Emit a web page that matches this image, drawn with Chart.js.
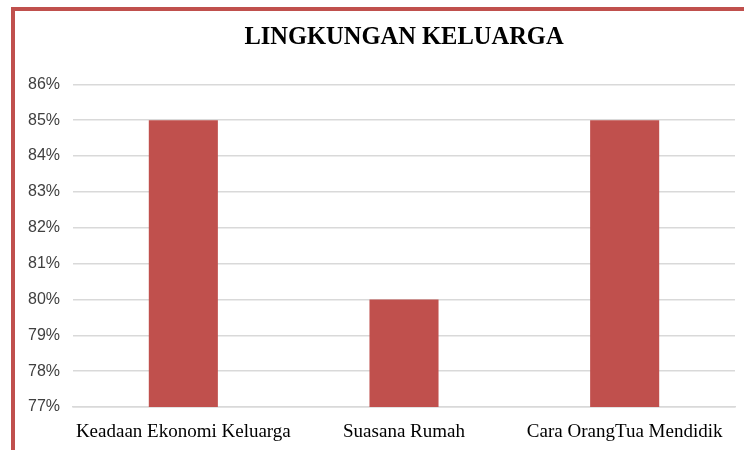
<!DOCTYPE html>
<html>
<head>
<meta charset="utf-8">
<script src="https://cdn.jsdelivr.net/npm/chart.js@4/dist/chart.umd.min.js"></script>
<style>
html,body{margin:0;padding:0;background:#fff;}
#frame{position:absolute;left:11px;top:7px;width:733px;height:443px;border-top:4px solid #C0504D;border-left:4px solid #C0504D;box-sizing:border-box;}
#wrap{position:absolute;left:0;top:0;width:744px;height:450px;}
</style>
</head>
<body>
<div id="frame"></div>
<div id="wrap"><canvas id="c" width="744" height="450"></canvas></div>
<script>
const categories = ["Keadaan Ekonomi Keluarga", "Suasana Rumah", "Cara OrangTua Mendidik"];
const values = [0.85, 0.80, 0.85];
const titleText = "LINGKUNGAN KELUARGA";
const yMin = 0.77, yMax = 0.86, yStep = 0.01;

new Chart(document.getElementById('c'), {
  type: 'bar',
  data: {
    labels: categories,
    datasets: [{
      data: values,
      backgroundColor: '#C0504D',
      borderWidth: 0,
      barPercentage: 0.5,
      categoryPercentage: 0.626
    }]
  },
  options: {
    responsive: false,
    animation: false,
    layout: { padding: { left: 0, right: 9, top: 0, bottom: 0 } },
    plugins: {
      legend: { display: false },
      tooltip: { enabled: false },
      title: {
        display: true,
        text: titleText,
        fullSize: false,
        color: '#000',
        font: { family: 'Liberation Serif', size: 24.5, weight: 'bold' },
        padding: { top: 23, bottom: 32 }
      }
    },
    scales: {
      x: {
        grid: { display: false, drawTicks: false },
        border: { display: true, color: '#d9d9d9', width: 1.5 },
        afterFit: s => { s.height = 43; },
        ticks: {
          color: '#000',
          padding: 14,
          maxRotation: 0,
          font: { family: 'Liberation Serif', size: 19 }
        }
      },
      y: {
        min: yMin,
        max: yMax,
        grid: { color: '#d9d9d9', lineWidth: 1.5, drawTicks: false },
        border: { display: false },
        afterFit: s => { s.width = 73; },
        ticks: {
          stepSize: yStep,
          padding: 13,
          color: '#404040',
          font: { family: 'Liberation Sans', size: 16 },
          callback: v => Math.round(v * 100) + '%'
        }
      }
    }
  }
});
</script>
</body>
</html>
